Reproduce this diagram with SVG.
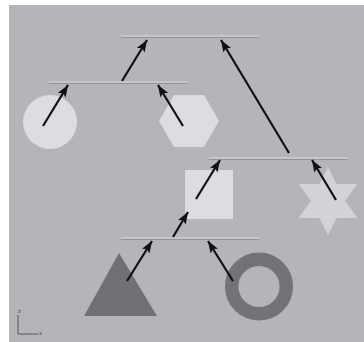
<svg xmlns="http://www.w3.org/2000/svg" width="364" height="342" viewBox="0 0 364 342">
  <style>
    .bar-top { fill: #c6c7ca; }
    .bar-bot { fill: #939498; }
    .arrow { stroke: #111; stroke-width: 2.2; fill: none; marker-end: url(#ah); }
    .light { fill: #dcdde0; }
    .dark { fill: #707175; }
    .axis { stroke: #555; stroke-width: 1; fill: none; }
    .axlabel { font-family: "Liberation Sans", Arial, sans-serif; font-size: 6px; fill: #444; }
  </style>
  <defs>
    <marker id="ah" viewBox="0 0 12 9" refX="12" refY="4.5" markerWidth="12" markerHeight="9" markerUnits="userSpaceOnUse" orient="auto">
      <path d="M0,0 L12,4.5 L0,9 L2.5,4.5 Z" fill="#111"/>
    </marker>
  </defs>
  <rect x="0" y="0" width="364" height="342" fill="#ffffff"/>
  <rect x="9" y="5" width="355" height="337" fill="#b4b5b9"/>

  <g id="circle"><circle cx="50" cy="122" r="27" class="light"/></g>
  <g id="hexagon"><polygon points="159,121 174,95 204,95 219,121 204,147 174,147" class="light"/></g>
  <g id="square"><rect x="185" y="170" width="48" height="49" class="light"/></g>
  <g id="star"><polygon points="328,167 336.5,184 357.4,184 345,201 357.4,218 336.5,218 328,235 319.5,218 298.6,218 311,201 298.6,184 319.5,184" fill="#d2d3d6"/></g>
  <g id="triangle"><polygon points="119,253 84,316 157,316" class="dark"/></g>
  <g id="ring"><circle cx="259" cy="286.5" r="27.3" fill="none" stroke="#727377" stroke-width="13.5"/></g>

  <g id="bar-top"><rect x="121" y="35" width="138" height="2" class="bar-top"/><rect x="121" y="37" width="138" height="1" class="bar-bot"/></g>
  <g id="bar-left"><rect x="49" y="81" width="139" height="2" class="bar-top"/><rect x="49" y="83" width="139" height="1" class="bar-bot"/></g>
  <g id="bar-right"><rect x="209" y="157" width="139" height="2" class="bar-top"/><rect x="209" y="159" width="139" height="1" class="bar-bot"/></g>
  <g id="bar-bottom"><rect x="121" y="237" width="138" height="2" class="bar-top"/><rect x="121" y="239" width="138" height="1" class="bar-bot"/></g>

  <g id="connectors">
    <line class="arrow" x1="122" y1="81" x2="147" y2="40"/>
    <line class="arrow" x1="289" y1="153" x2="221" y2="40"/>
    <line class="arrow" x1="43" y1="126" x2="68" y2="85"/>
    <line class="arrow" x1="183" y1="126" x2="158" y2="85"/>
    <line class="arrow" x1="196" y1="199" x2="220" y2="160"/>
    <line class="arrow" x1="336" y1="200" x2="312" y2="160"/>
    <line class="arrow" x1="173" y1="237" x2="188" y2="212"/>
    <line class="arrow" x1="127" y1="281" x2="152" y2="241"/>
    <line class="arrow" x1="233" y1="281" x2="208" y2="241"/>
  </g>

  <g id="axes">
    <path class="axis" d="M18,315 L18,334 L38,334"/>
    <text class="axlabel" x="18" y="313">z</text>
    <text class="axlabel" x="39" y="335">x</text>
  </g>
</svg>
